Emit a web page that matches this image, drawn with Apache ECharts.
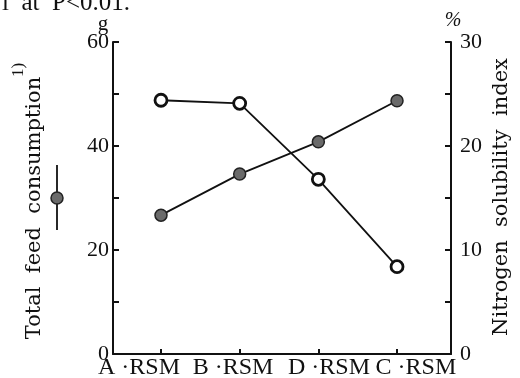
<!DOCTYPE html>
<html>
<head>
<meta charset="utf-8">
<script src="https://cdn.jsdelivr.net/npm/echarts@6/dist/echarts.min.js"></script>
<style>
  html, body { margin: 0; padding: 0; background: #fff; }
  #chart { width: 520px; height: 378px; }
</style>
</head>
<body>
<div id="chart"></div>
<script>
// categories along x (order as printed)
const categories = ["A·RSM", "B·RSM", "D·RSM", "C·RSM"];
// total feed consumption, g (filled circles, left axis)
const feedConsumption = [26.7, 34.6, 40.8, 48.7];
// nitrogen solubility index, % (open circles, right axis)
const nitrogenSolubility = [24.4, 24.1, 16.8, 8.4];
// tick labels shown on each y axis
const leftLabels = [0, 20, 40, 60];
const rightLabels = [0, 10, 20, 30];

const serif = "Liberation Serif";
const titleFont = "DejaVu Serif";
const positions = categories.map((c, i) => i + 1);
// in the print the category names are spread a little wider than the points
const labelShift = [-0.28, -0.085, 0.135, 0.24];
const labelPositions = positions.map((p, i) => p + labelShift[i]);

const chart = echarts.init(document.getElementById("chart"));

const option = {
  animation: false,
  backgroundColor: "#fff",
  grid: {
    left: 113, right: 69, top: 42, bottom: 24,
    containLabel: false,
    outerBoundsMode: "none"
  },
  xAxis: {
    type: "value",
    min: 0.39,
    max: 4.686,
    axisLine: { show: true, lineStyle: { color: "#111", width: 2 } },
    axisTick: {
      show: true, inside: true, length: 5,
      customValues: positions,
      lineStyle: { color: "#111", width: 2 }
    },
    axisLabel: {
      show: true,
      customValues: labelPositions,
      formatter: (v) => categories[Math.round(v) - 1].replace("·", " ·"),
      color: "#111", fontFamily: serif, fontSize: 24, margin: 2
    },
    splitLine: { show: false }
  },
  yAxis: [
    {
      type: "value",
      min: 0, max: 60, interval: 10,
      axisLine: { show: true, lineStyle: { color: "#111", width: 2 } },
      axisTick: { show: true, inside: true, length: 6, lineStyle: { color: "#111", width: 2 } },
      axisLabel: {
        formatter: (v) => (leftLabels.includes(v) ? String(v) : ""),
        color: "#111", fontFamily: serif, fontSize: 22, margin: 4
      },
      splitLine: { show: false }
    },
    {
      type: "value",
      position: "right",
      min: 0, max: 30, interval: 5,
      axisLine: { show: true, lineStyle: { color: "#111", width: 2 } },
      axisTick: { show: true, inside: true, length: 6, lineStyle: { color: "#111", width: 2 } },
      axisLabel: {
        formatter: (v) => (rightLabels.includes(v) ? String(v) : ""),
        color: "#111", fontFamily: serif, fontSize: 22, margin: 9
      },
      splitLine: { show: false }
    }
  ],
  series: [
    {
      name: "Total feed consumption",
      type: "line",
      yAxisIndex: 0,
      data: feedConsumption.map((v, i) => [positions[i], v]),
      symbol: "circle",
      symbolSize: 12,
      lineStyle: { color: "#111", width: 1.8 },
      itemStyle: { color: "#6a6a6a", borderColor: "#222", borderWidth: 1.5 },
      z: 3
    },
    {
      name: "Nitrogen solubility index",
      type: "line",
      yAxisIndex: 1,
      data: nitrogenSolubility.map((v, i) => [positions[i], v]),
      symbol: "circle",
      symbolSize: 12,
      lineStyle: { color: "#111", width: 1.8 },
      itemStyle: { color: "#fff", borderColor: "#111", borderWidth: 2.8 },
      z: 4
    }
  ],
  graphic: [
    // caption fragment cut at the top edge
    {
      type: "text", left: 2, top: -9,
      style: { text: "l  at  P<0.01.", fontSize: 25, fontFamily: serif, fill: "#111" }
    },
    // units
    {
      type: "text", x: 103, y: 24,
      style: { text: "g", fontSize: 21, fontFamily: serif, fill: "#111", align: "center", verticalAlign: "middle" }
    },
    {
      type: "text", x: 453, y: 21,
      style: { text: "%", fontSize: 20, fontStyle: "italic", fontFamily: serif, fill: "#111", align: "center", verticalAlign: "middle" }
    },
    // left axis title
    {
      type: "text", x: 35, y: 208, rotation: Math.PI / 2,
      style: { text: "Total  feed  consumption", fontSize: 21, fontFamily: titleFont, fill: "#111", align: "center", verticalAlign: "middle" }
    },
    {
      type: "text", x: 19, y: 70, rotation: Math.PI / 2,
      style: { text: "1)", fontSize: 17, fontFamily: serif, fill: "#111", align: "center", verticalAlign: "middle" }
    },
    // legend key for the filled-circle line
    {
      type: "line",
      shape: { x1: 57, y1: 165, x2: 57, y2: 230 },
      style: { stroke: "#111", lineWidth: 1.8 }
    },
    {
      type: "circle",
      shape: { cx: 57, cy: 198, r: 6 },
      style: { fill: "#6a6a6a", stroke: "#222", lineWidth: 1.5 }
    },
    // right axis title
    {
      type: "text", x: 502, y: 197, rotation: Math.PI / 2,
      style: { text: "Nitrogen  solubility  index", fontSize: 21, fontFamily: titleFont, fill: "#111", align: "center", verticalAlign: "middle" }
    }
  ]
};

chart.setOption(option);
</script>
</body>
</html>
